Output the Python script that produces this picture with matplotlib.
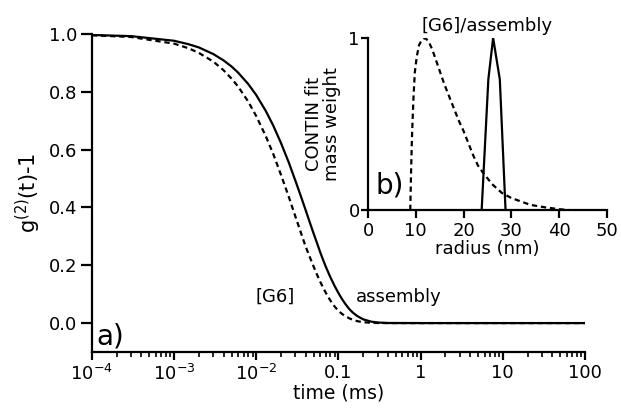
import matplotlib
matplotlib.use("Agg")
import matplotlib.pyplot as plt
from matplotlib.ticker import FixedLocator, LogLocator, NullFormatter

plt.rcParams['font.family'] = ['DejaVu Sans']
plt.rcParams['mathtext.fontset'] = 'dejavusans'
plt.rcParams['mathtext.default'] = 'regular'

###================ Data =================###

# intensity autocorrelation, delay time in ms
time_ms = [1e-4, 3e-4, 1e-3, 1.5e-3, 2e-3, 3e-3, 4e-3, 5e-3, 6e-3, 8e-3,
           0.01, 0.013, 0.016, 0.02, 0.025, 0.03, 0.035, 0.04, 0.045,
           0.05, 0.055, 0.06, 0.065, 0.07, 0.075, 0.08, 0.09, 0.1, 0.11,
           0.12, 0.135, 0.15, 0.17, 0.2, 0.25, 0.3, 0.4,
           1.0, 10.0, 100.0]
g2_assembly = [0.997, 0.993, 0.977, 0.965, 0.954, 0.931, 0.909, 0.888,
               0.867, 0.827, 0.789, 0.735, 0.685, 0.623, 0.554, 0.492,
               0.438, 0.390, 0.347, 0.309, 0.276, 0.245, 0.219, 0.196,
               0.176, 0.158, 0.128, 0.104, 0.084, 0.068, 0.049, 0.036,
               0.024, 0.013, 0.005, 0.002, 0.0003, 0.0, 0.0, 0.0]
g2_g6 = [0.996, 0.990, 0.967, 0.951, 0.935, 0.905, 0.875, 0.846,
         0.819, 0.766, 0.716, 0.648, 0.587, 0.513, 0.435, 0.368,
         0.312, 0.264, 0.227, 0.195, 0.167, 0.143, 0.123, 0.1055,
         0.0905, 0.0776, 0.0571, 0.042, 0.0322, 0.0248, 0.0167, 0.0112,
         0.0066, 0.003, 0.001, 0.0003, 0.0, 0.0, 0.0, 0.0]

# CONTIN size distributions (normalised mass weight)
radius_g6 = [8.85, 9.0, 9.2, 9.5, 9.8, 10.2, 10.7, 11.3, 12.0, 12.7,
             13.5, 14.5, 16.0, 17.0, 18.0, 19.0, 20.0, 22.0, 23.0, 24.0,
             26.0, 28.0, 30.0, 32.0, 34.0, 37.0, 40.0, 42.0]
weight_g6 = [0.0, 0.2, 0.42, 0.64, 0.8, 0.89, 0.96, 0.99, 1.0, 0.98,
             0.93, 0.85, 0.73, 0.66, 0.59, 0.52, 0.46, 0.32, 0.26, 0.22,
             0.15, 0.10, 0.07, 0.05, 0.03, 0.016, 0.005, 0.0]
radius_assembly = [23.8, 25.2, 26.2, 27.6, 28.8]
weight_assembly = [0.0, 0.76, 1.0, 0.76, 0.0]

time_ticks = [1e-4, 1e-3, 1e-2, 0.1, 1, 10, 100]
time_labels = ['$10^{-4}$', '$10^{-3}$', '$10^{-2}$', '0.1', '1', '10', '100']
g2_ticks = [0.0, 0.2, 0.4, 0.6, 0.8, 1.0]
radius_ticks = [0, 10, 20, 30, 40, 50]

TICK_SIZE = 13
LABEL_SIZE = 13.5
DASH = (0, (2.4, 1.7))


def style_axes(ax):
    for side in ('top', 'right'):
        ax.spines[side].set_visible(False)
    for side in ('left', 'bottom'):
        ax.spines[side].set_linewidth(1.6)
    ax.tick_params(which='major', direction='out', width=1.6, length=6,
                   labelsize=TICK_SIZE, pad=2.5)
    ax.tick_params(which='minor', direction='out', width=1.2, length=3.5)


fig = plt.figure(figsize=(6.21, 4.11), dpi=100)

###================ a) correlation functions =================###
ax = fig.add_axes([0.148, 0.1436, 0.794, 0.7734])
ax.plot(time_ms, g2_g6, color='black', lw=1.6, ls=DASH)
ax.plot(time_ms, g2_assembly, color='black', lw=1.6)
ax.set_xscale('log')
ax.set_xlim(1e-4, 100)
ax.set_ylim(-0.1, 1.0)
ax.xaxis.set_major_locator(FixedLocator(time_ticks))
ax.set_xticklabels(time_labels)
ax.xaxis.set_minor_locator(LogLocator(base=10, subs=range(2, 10), numticks=20))
ax.xaxis.set_minor_formatter(NullFormatter())
ax.set_yticks(g2_ticks)
ax.set_yticklabels([f'{v:.1f}' for v in g2_ticks])
style_axes(ax)
ax.tick_params(axis='y', which='major', length=8)
ax.set_xlabel('time (ms)', fontsize=LABEL_SIZE, labelpad=0)
ax.set_ylabel('g$^{(2)}$(t)-1', fontsize=15, labelpad=4)
ax.text(0.029, 0.09, '[G6]', fontsize=TICK_SIZE, ha='right', va='center')
ax.text(0.165, 0.09, 'assembly', fontsize=TICK_SIZE, ha='left', va='center')
ax.text(1.12e-4, -0.045, 'a)', fontsize=20, ha='left', va='center')

###================ b) CONTIN fit =================###
axb = fig.add_axes([0.5926, 0.489, 0.3845, 0.4185])
axb.plot(radius_g6, weight_g6, color='black', lw=1.6, ls=DASH)
axb.plot(radius_assembly, weight_assembly, color='black', lw=1.6)
axb.set_xlim(0, 50)
axb.set_ylim(0, 1)
axb.set_xticks(radius_ticks)
axb.set_yticks([0, 1])
axb.set_yticklabels(['0', '1'])
style_axes(axb)
axb.tick_params(axis='y', which='major', length=5, pad=1)
axb.set_xlabel('radius (nm)', fontsize=TICK_SIZE, labelpad=0)
axb.set_ylabel('CONTIN fit\nmass weight', fontsize=TICK_SIZE,
               linespacing=0.95)
axb.yaxis.set_label_coords(-0.115, 0.5)
axb.set_title('[G6]/assembly', fontsize=TICK_SIZE, pad=5)
axb.text(1.5, 0.14, 'b)', fontsize=20, ha='left', va='center')

fig.savefig('out.png', dpi=100)
